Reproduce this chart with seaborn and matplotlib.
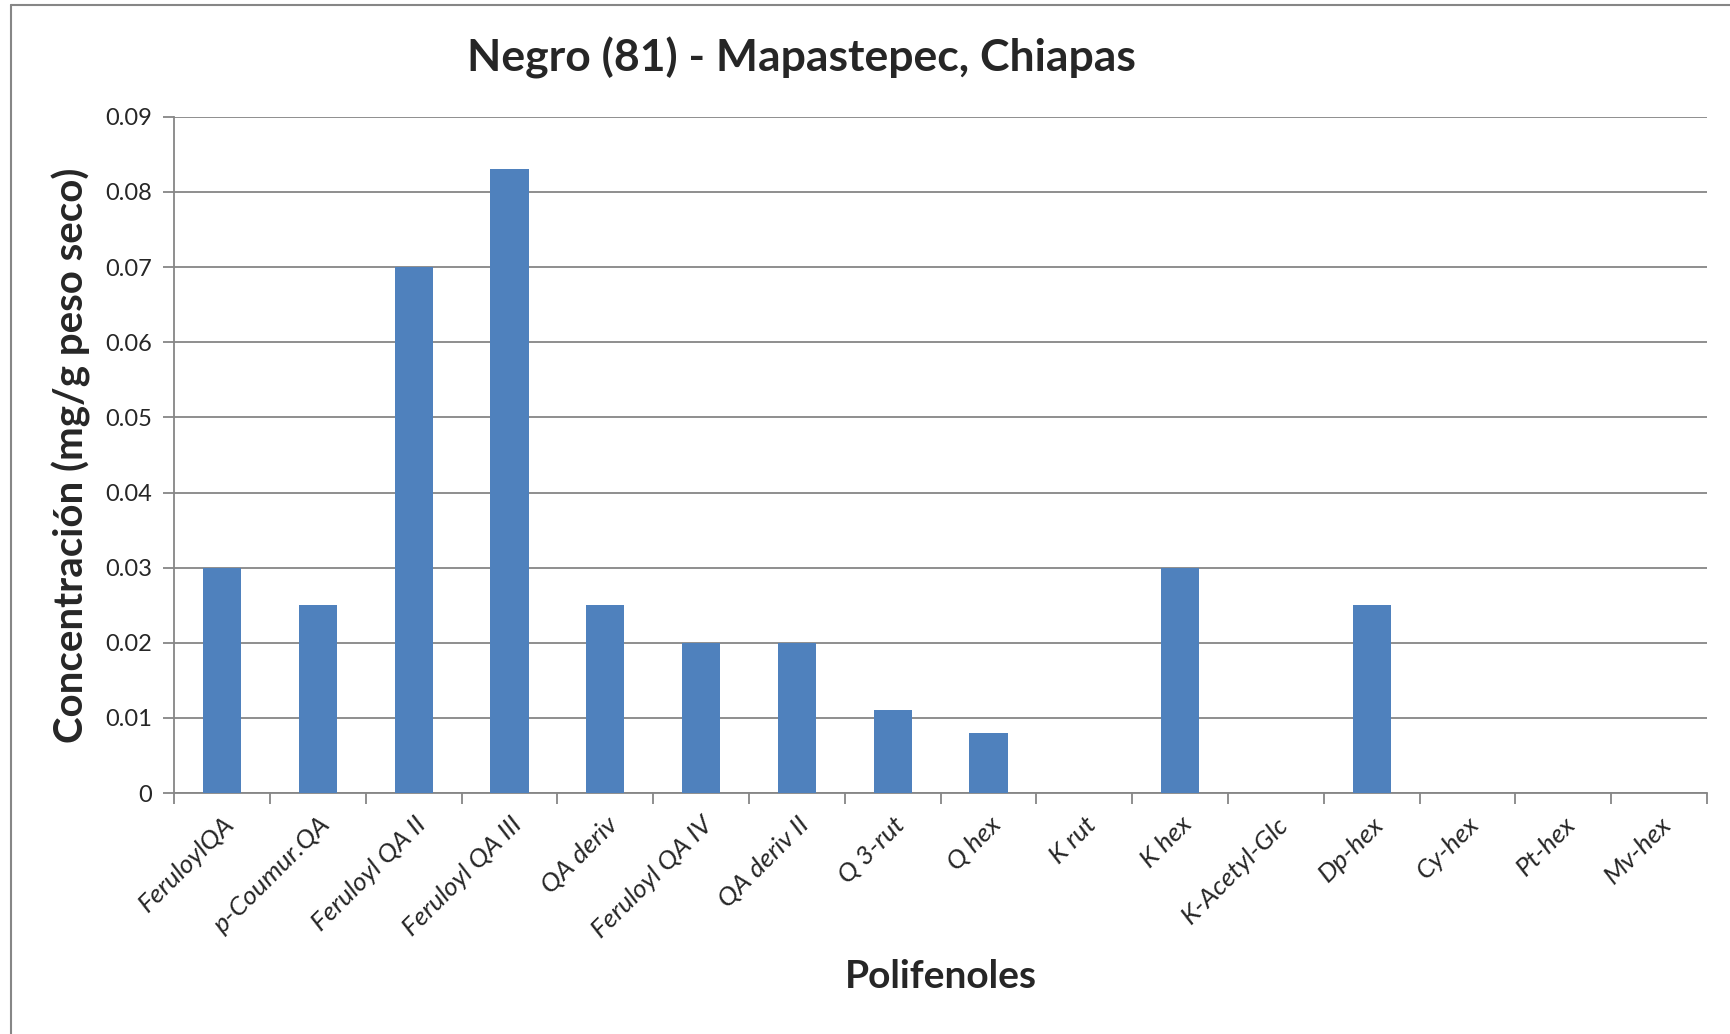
import matplotlib
matplotlib.use('Agg')
import matplotlib.pyplot as plt
import seaborn as sns
from matplotlib.lines import Line2D

compuestos = ['FeruloylQA', 'p-Coumur.QA', 'Feruloyl QA II', 'Feruloyl QA III', 'QA deriv',
              'Feruloyl QA IV', 'QA deriv II', 'Q 3-rut', 'Q hex', 'K rut', 'K hex',
              'K-Acetyl-Glc', 'Dp-hex', 'Cy-hex', 'Pt-hex', 'Mv-hex']
concentracion = [0.030, 0.025, 0.070, 0.083, 0.025, 0.020, 0.020, 0.011, 0.008,
                 0.0, 0.030, 0.0, 0.025, 0.0, 0.0, 0.0]
y_ticks = [0, 0.01, 0.02, 0.03, 0.04, 0.05, 0.06, 0.07, 0.08, 0.09]
y_labels = ['0', '0.01', '0.02', '0.03', '0.04', '0.05', '0.06', '0.07', '0.08', '0.09']

sns.set_style('white')
plt.rcParams['font.family'] = ['Lato', 'DejaVu Sans']

fig = plt.figure(figsize=(17.3, 10.34), dpi=100)
ax = fig.add_axes([0.1007, 0.233, 0.886, 0.654])

sns.barplot(x=compuestos, y=concentracion, color='#4F81BD', saturation=1, width=0.4,
            linewidth=0, ax=ax, zorder=3)

ax.set_xlim(-0.5, len(compuestos) - 0.5)
ax.set_ylim(0, 0.09)
ax.set_yticks(y_ticks)
ax.set_yticklabels(y_labels, fontsize=17)
ax.yaxis.grid(True, color='#868686', linewidth=1.3, zorder=0)
ax.set_axisbelow(True)

ax.set_xticks(range(len(compuestos)))
ax.set_xticklabels(compuestos, rotation=45, ha='right', rotation_mode='anchor',
                   fontsize=19, style='italic')
ax.set_xticks([i - 0.5 for i in range(len(compuestos) + 1)], minor=True)
ax.tick_params(axis='x', which='major', length=0, pad=14)
ax.tick_params(axis='x', which='minor', length=8, width=1.3, color='#868686', bottom=True)
ax.tick_params(axis='y', length=8, width=1.3, color='#868686', left=True, pad=8)

for s in ['top', 'right']:
    ax.spines[s].set_visible(False)
for s in ['left', 'bottom']:
    ax.spines[s].set_color('#868686')
    ax.spines[s].set_linewidth(1.3)

ax.set_xlabel('Polifenoles', fontsize=28, fontweight='bold', labelpad=12)
ax.set_ylabel('Concentración (mg/g peso seco)', fontsize=29, fontweight='bold', labelpad=10)
fig.text(0.4635, 0.944, 'Negro (81) - Mapastepec, Chiapas', fontsize=32, fontweight='bold',
         ha='center', va='center')

# marco del grafico
fig.add_artist(Line2D([0.0064, 0.0064], [0, 0.9947], color='#868686', linewidth=1.5))
fig.add_artist(Line2D([0.0064, 1.0], [0.9947, 0.9947], color='#868686', linewidth=1.5))

fig.savefig('out.png', dpi=100)
